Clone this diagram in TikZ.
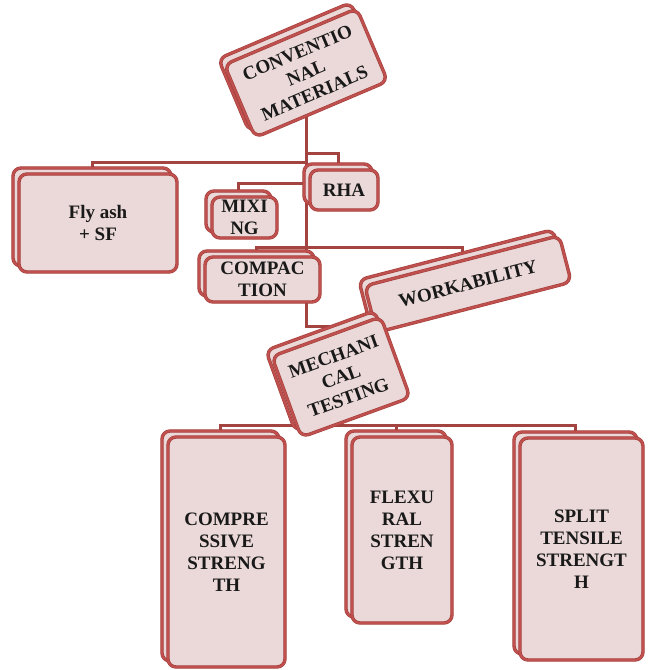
\documentclass[tikz,border=0pt]{standalone}
\usepackage{fontspec}
\setmainfont{Liberation Serif}
\usetikzlibrary{backgrounds}
\definecolor{cardred}{HTML}{C0504D}
\definecolor{cardedge}{HTML}{A23F3D}
\definecolor{cardfill}{HTML}{EAD9D8}
\tikzset{
  chart card/.style={draw=cardedge, double=cardred, double distance=2.2pt,
    line width=0.6pt, fill=cardfill, rounded corners=8pt, inner sep=2pt,
    align=center, text=black!90, font=\bfseries\fontsize{19}{22}\selectfont},
  chart link/.style={draw=cardred!85!black, line width=3pt}
}
\newcommand{\stackCard}[7]{%
  \node[chart card, minimum width=#4pt, minimum height=#5pt, rotate=#6]
    (#1 back) at ({#2-6},{#3-6}) {};%
  \node[chart card, minimum width=#4pt, minimum height=#5pt, rotate=#6]
    (#1) at (#2,#3) {#7};%
}

\begin{document}
\begin{tikzpicture}[x=1pt,y=-1pt]
  \useasboundingbox (0,0) rectangle (650,670);

  \stackCard{conv}{306}{73}{144}{79}{23}{CONVENTIO\\NAL\\MATERIALS}
  \stackCard{fly}{98}{223}{158}{98}{0}{Fly ash\\+ SF}
  \stackCard{rha}{344}{190}{68}{40}{0}{RHA}
  \stackCard{mix}{244.5}{217.5}{65}{41}{0}{MIXI\\NG}
  \stackCard{comp}{262.5}{279.5}{115}{45}{0}{COMPAC\\TION}
  \stackCard{work}{468}{284}{201}{48}{14.5}{WORKABILITY}
  \stackCard{mech}{341}{377}{116}{86}{20}{MECHANI\\CAL\\TESTING}
  \stackCard{comps}{226.5}{552}{117}{230}{0}{COMPRE\\SSIVE\\STRENG\\TH}
  \stackCard{flex}{402}{530}{100}{186}{0}{FLEXU\\RAL\\STREN\\GTH}
  \stackCard{split}{581.5}{549}{123}{222}{0}{SPLIT\\TENSILE\\STRENGT\\H}

  % connectors sit behind the cards
  \begin{scope}[on background layer]
    \fill[white] (0,0) rectangle (650,670);
    \coordinate (bus rha) at (0,153);
    \coordinate (bus fly) at (0,162);
    \coordinate (bus mix) at (0,183);
    \coordinate (bus comp) at (0,247);
    \coordinate (bus mech) at (0,326);
    \coordinate (bus low) at (0,425);
    \draw[chart link] (conv.center) |- (fly back |- bus fly) -- (fly back.center);
    \draw[chart link] (conv.center) |- (rha back |- bus rha) -- (rha back.center);
    \draw[chart link] (conv.center) |- (mix back |- bus mix) -- (mix back.center);
    \draw[chart link] (conv.center) |- (comp back |- bus comp) -- (comp back.center);
    \draw[chart link] (conv.center) |- (work back |- bus comp) -- (work back.center);
    \draw[chart link] (conv.center) |- (mech back |- bus mech) -- (mech back.center);
    \draw[chart link] (mech.center) |- (comps back |- bus low) -- (comps back.center);
    \draw[chart link] (mech.center) |- (flex back |- bus low) -- (flex back.center);
    \draw[chart link] (mech.center) |- (split back |- bus low) -- (split back.center);
  \end{scope}
\end{tikzpicture}
\end{document}
